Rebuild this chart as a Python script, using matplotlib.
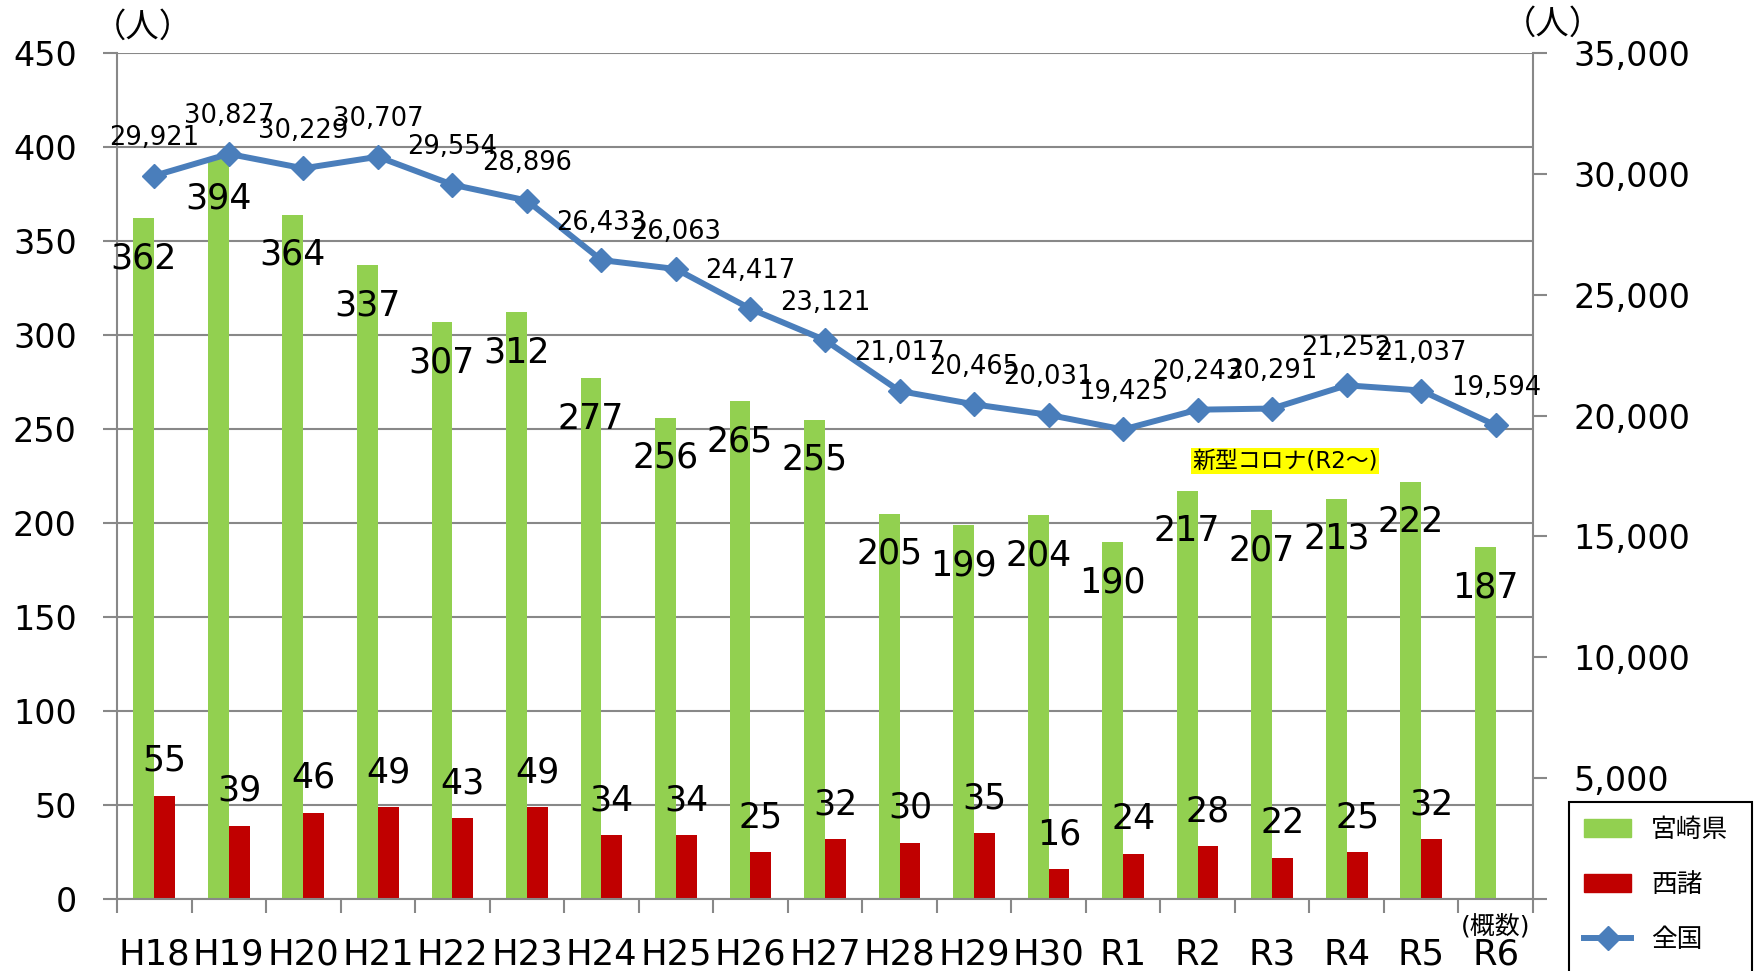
import matplotlib.pyplot as plt
from matplotlib.patches import Patch, Rectangle
from matplotlib.lines import Line2D
from matplotlib.ticker import FuncFormatter, MultipleLocator
import numpy as np

plt.rcParams['font.family'] = ['DejaVu Sans', 'Noto Sans CJK JP']

years = ['H18', 'H19', 'H20', 'H21', 'H22', 'H23', 'H24', 'H25', 'H26', 'H27',
         'H28', 'H29', 'H30', 'R1', 'R2', 'R3', 'R4', 'R5', 'R6']
miyazaki = [362, 394, 364, 337, 307, 312, 277, 256, 265, 255,
            205, 199, 204, 190, 217, 207, 213, 222, 187]
nishimoro = [55, 39, 46, 49, 43, 49, 34, 34, 25, 32,
             30, 35, 16, 24, 28, 22, 25, 32, np.nan]
zenkoku = [29921, 30827, 30229, 30707, 29554, 28896, 26433, 26063, 24417, 23121,
           21017, 20465, 20031, 19425, 20243, 20291, 21252, 21037, 19594]

green = '#92D050'
red = '#C00000'
blue = '#4A7EBB'
grey = '#888888'

fig = plt.figure(figsize=(17.58, 9.71), dpi=100)
ax = fig.add_axes([117/1758, 1-899/971, (1533-117)/1758, (899-53)/971])
ax2 = ax.twinx()

x = np.arange(len(years))
w = 0.28
ax.bar(x - w/2, miyazaki, w, color=green, zorder=2)
ax.bar(x + w/2, nishimoro, w, color=red, zorder=2)

for xi, v in zip(x, miyazaki):
    ax.annotate(str(v), (xi - w/2, v), xytext=(0, -29), textcoords='offset points',
                ha='center', va='center', fontsize=25, zorder=5)
for xi, v in zip(x, nishimoro):
    if not np.isnan(v):
        ax.annotate(str(int(v)), (xi + w/2, v), xytext=(0, 25), textcoords='offset points',
                    ha='center', va='center', fontsize=25, zorder=5)

ax2.plot(x, zenkoku, color=blue, lw=4.3, marker='D', markersize=12, zorder=3)
for xi, v in zip(x, zenkoku):
    ax2.annotate(f'{v:,}', (xi, v), xytext=(0, 27), textcoords='offset points',
                 ha='center', va='center', fontsize=18.5)

# axes styling
ax.set_xlim(-0.5, len(years) - 0.5)
ax.set_ylim(0, 450)
ax.yaxis.set_major_locator(MultipleLocator(50))
ax2.set_ylim(0, 35000)
ax2.yaxis.set_major_locator(MultipleLocator(5000))
ax2.yaxis.set_major_formatter(FuncFormatter(lambda v, p: f'{int(v):,}'))

ax.set_axisbelow(True)
ax.yaxis.grid(True, color=grey, lw=1.5)
for a in (ax, ax2):
    for s in ('top', 'bottom', 'left', 'right'):
        a.spines[s].set_visible(False)
for a, s in ((ax, 'left'), (ax, 'bottom'), (ax2, 'right')):
    a.spines[s].set_visible(True)
    a.spines[s].set_color(grey)
    a.spines[s].set_linewidth(1.5)

ax.set_xticks(x)
ax.set_xticklabels(years)
ax.set_xticks(np.arange(-0.5, len(years)), minor=True)
ax.tick_params(axis='x', which='major', length=0, pad=28, labelsize=25.5)
ax.tick_params(axis='x', which='minor', length=10, width=1.5, color=grey)
ax.tick_params(axis='y', length=10, width=1.5, color=grey, pad=19, labelsize=24)
ax2.tick_params(axis='y', length=10, width=1.5, color=grey, pad=19, labelsize=24)

fig.text(143/1758, 1-27/971, '（人）', ha='center', va='center', fontsize=24)
fig.text(1553/1758, 1-24/971, '（人）', ha='center', va='center', fontsize=24)
ax.text(18, -0.032, '(概数)', transform=ax.get_xaxis_transform(),
        ha='center', va='center', fontsize=18)

ax.text(15.17, 233, '新型コロナ(R2〜)', ha='center', va='center', fontsize=16.5,
        bbox=dict(facecolor='yellow', edgecolor='none', pad=1), zorder=6)

# legend box (bottom is cut off by the page edge)
fig.patches.append(Rectangle((1569/1758, -0.02), (1752-1569)/1758, 0.02 + 1-802/971,
                             transform=fig.transFigure, facecolor='white',
                             edgecolor='black', lw=1.5, zorder=10))
handles = [Patch(color=green), Patch(color=red),
           Line2D([], [], color=blue, lw=4.3, marker='D', markersize=12)]
leg = fig.legend(handles, ['宮崎県', '西諸', '全国'], loc='upper left',
                 bbox_to_anchor=(1569/1758, 1-802/971), frameon=False,
                 fontsize=18.5, handlelength=1.8, handletextpad=0.8,
                 labelspacing=1.12, borderpad=0.6, borderaxespad=0)
leg.set_zorder(11)

fig.savefig('out.png', dpi=100)
